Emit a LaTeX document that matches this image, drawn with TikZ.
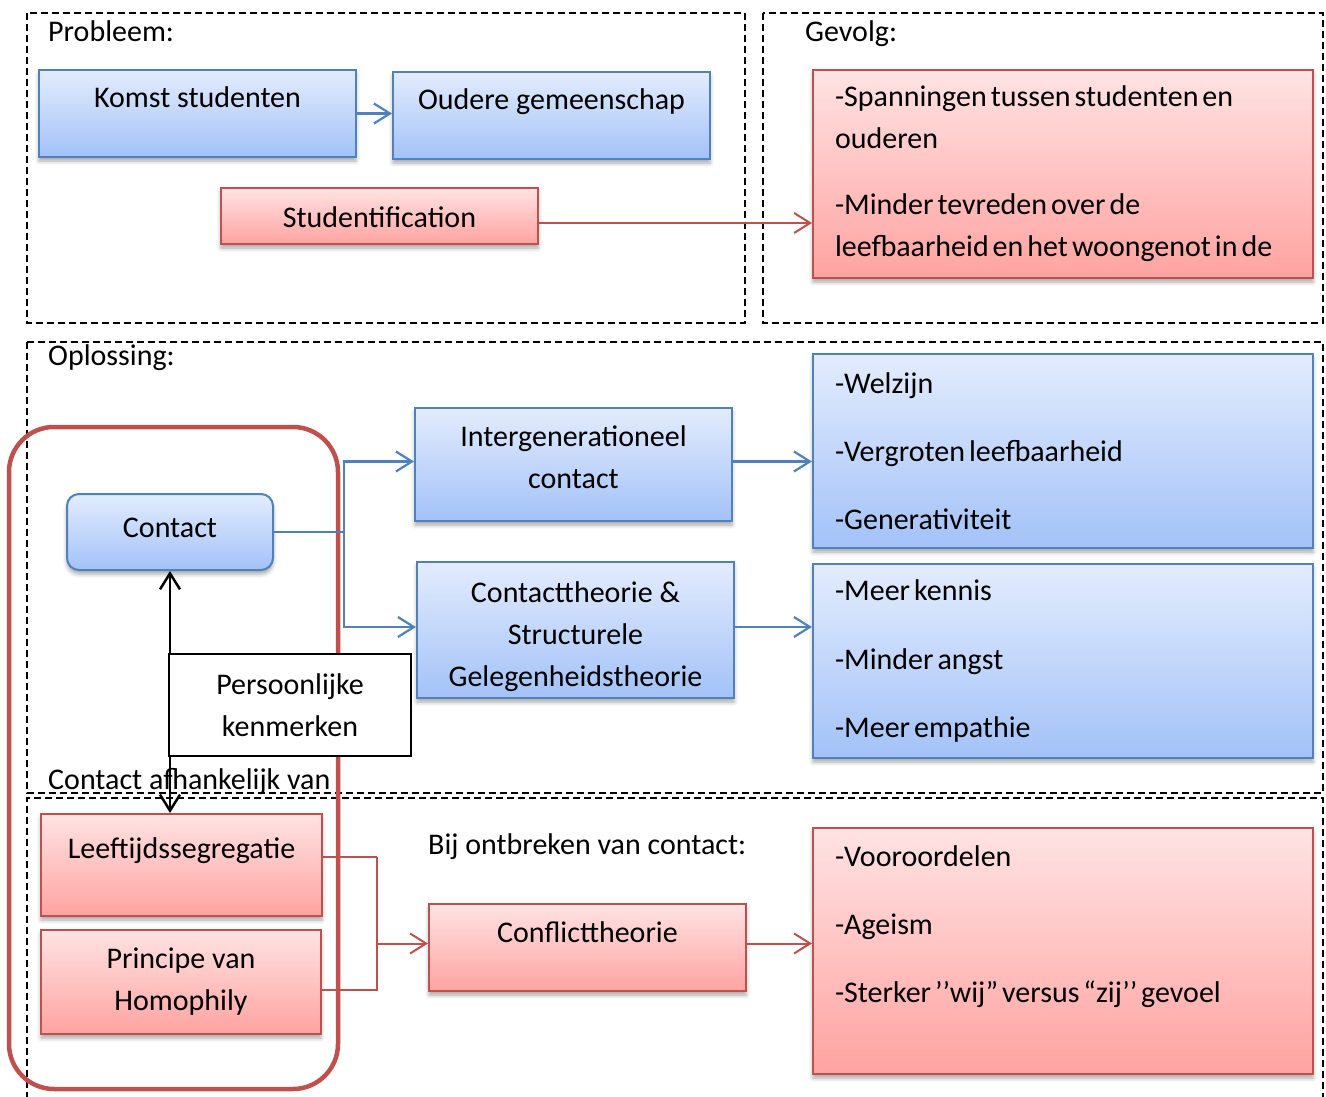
\documentclass[tikz,border=0pt]{standalone}
\usepackage{fontspec}
\setmainfont{Carlito}
\usetikzlibrary{arrows.meta,shadows.blur}
\definecolor{accblue}{HTML}{4F81BD}
\definecolor{bluetop}{HTML}{E3ECFD}
\definecolor{bluebot}{HTML}{A3C2F8}
\definecolor{accred}{HTML}{C0504D}
\definecolor{redtop}{HTML}{FFE3E3}
\definecolor{redbot}{HTML}{FFA3A1}
\tikzset{
  boxshadow/.style={blur shadow={shadow xshift=0pt,shadow yshift=-4pt,shadow blur radius=4pt,shadow opacity=35}},
  bluebox/.style={draw=accblue,line width=2pt,top color=bluetop,bottom color=bluebot,boxshadow,inner sep=0pt,align=center},
  redbox/.style={draw=accred,line width=2pt,top color=redtop,bottom color=redbot,boxshadow,inner sep=0pt,align=center},
  plainbox/.style={draw=black,line width=2pt,fill=white,inner sep=0pt,align=center},
  listbox/.style={text width=456pt,inner xsep=22pt,inner ysep=0pt,align=left,
    execute at begin node={\spaceskip=4pt plus 1pt minus 1pt\relax}},
  lbl/.style={anchor=base west,inner sep=0pt},
  dashframe/.style={draw=black,line width=1.5pt,dash pattern=on 7pt off 4pt},
  bluearrow/.style={draw=accblue,line width=2.2pt,->},
  redarrow/.style={draw=accred,line width=2pt,->},
  redjoin/.style={draw=accred,line width=2pt},
  blackarrow/.style={draw=black,line width=2.5pt,<->}
}
\begin{document}
\begin{tikzpicture}[x=1pt,y=-1pt,
  >={Straight Barb[length=16pt,width=20pt]},
  every node/.style={font=\fontsize{30}{42}\selectfont}]
\useasboundingbox (0,0) rectangle (1326,1097);

% kaders
\draw[dashframe] (27,13) rectangle (745,323);
\draw[dashframe] (763,13) rectangle (1323,323);
\draw[dashframe] (27,342) rectangle (1323,793);
\draw[dashframe] (27,1110) -- (27,798) -- (1323,798) -- (1323,1110);
\draw[accred,line width=4.5pt,rounded corners=45pt] (9,427) rectangle (338,1089);

\node[lbl] (probleem) at (48,42) {Probleem:};
\node[lbl] (gevolglbl) at (805,42) {Gevolg:};
\node[lbl] (oplossing) at (48,365) {Oplossing:};

% probleem
\node[bluebox,minimum width=317pt,text height=38pt,text depth=49pt] (komst) at (197.5,113.5) {Komst studenten};
\node[bluebox,minimum width=317pt,text height=38pt,text depth=49pt] (oudere) at (551.5,115.5) {Oudere gemeenschap};
\node[redbox,minimum width=317pt,text height=39.5pt,text depth=16.5pt] (stud) at (379.5,216) {Studentification};
\node[redbox,listbox,minimum height=208pt] (gevolg) at (1063,174)
  {-Spanningen tussen studenten en\\ouderen\\[24pt]-Minder tevreden over de\\leefbaarheid en het woongenot in de};

% oplossing
\node[bluebox,rounded corners=12pt,minimum width=206pt,text height=43.5pt,text depth=32.5pt] (contact) at (170,532) {Contact};
\node[bluebox,minimum width=317pt,minimum height=113pt] (intergen) at (573.5,464.5) {Intergenerationeel\\contact\\[-28pt]\mbox{}};
\node[bluebox,minimum width=317pt,minimum height=136pt] (ctheory) at (575.5,630) {Contacttheorie \&\\Structurele\\Gelegenheidstheorie\\[-50pt]\mbox{}};
\node[bluebox,listbox,minimum height=194pt] (welzijn) at (1063,451)
  {-Welzijn\\[26pt]-Vergroten leefbaarheid\\[26pt]-Generativiteit};
\node[bluebox,listbox,minimum height=194pt] (effecten) at (1063,661)
  {-Meer kennis\\[27pt]-Minder angst\\[26pt]-Meer empathie};

% afhankelijk
\node[redbox,minimum width=281pt,text height=44.5pt,text depth=57.5pt] (segregatie) at (181.5,865) {Leeftijdssegregatie};
\node[redbox,minimum width=280pt,minimum height=104pt] (homophily) at (181,982) {Principe van\\Homophily};
\node[redbox,minimum width=317pt,text height=38.5pt,text depth=48.5pt] (conflict) at (587.5,947.5) {Conflicttheorie};
\node[redbox,listbox,minimum height=246pt] (gevolgen) at (1063,951)
  {-Vooroordelen\\[26pt]-Ageism\\[26pt]-Sterker ’’wij” versus “zij’’ gevoel\\[12pt]\mbox{}};
\node[lbl] (ontbreken) at (428,854) {Bij ontbreken van contact:};

% pijlen
\draw[bluearrow] (komst.east) -- (komst.east -| oudere.west);
\draw[redarrow] ([yshift=-7pt]stud.east) -- ([yshift=-7pt]stud.east -| gevolg.west);
\draw[bluearrow] (contact.east) -- ++(70,0) coordinate (split) |- ([yshift=3pt]intergen.west);
\draw[bluearrow] (split) |- ([yshift=3pt]ctheory.west);
\draw[bluearrow] ([yshift=3pt]intergen.east) -- ([yshift=3pt]intergen.east -| welzijn.west);
\draw[bluearrow] ([yshift=3pt]ctheory.east) -- ([yshift=3pt]ctheory.east -| effecten.west);
\draw[blackarrow] (contact.south) -- (contact.south |- segregatie.north);
\node[plainbox,minimum width=242pt,minimum height=102pt] (kenmerken) at (290,705) {Persoonlijke\\kenmerken};
\node[lbl] (afhankelijk) at (48,789) {Contact afhankelijk van};
\draw[redjoin] ([yshift=8pt]segregatie.east) -- ++(54,0) coordinate (merge);
\draw[redjoin] ([yshift=-8pt]homophily.east) -| (merge);
\draw[redarrow] (merge) |- ([yshift=4pt]conflict.west);
\draw[redarrow] ([yshift=4pt]conflict.east) -- ([yshift=4pt]conflict.east -| gevolgen.west);
\end{tikzpicture}
\end{document}
